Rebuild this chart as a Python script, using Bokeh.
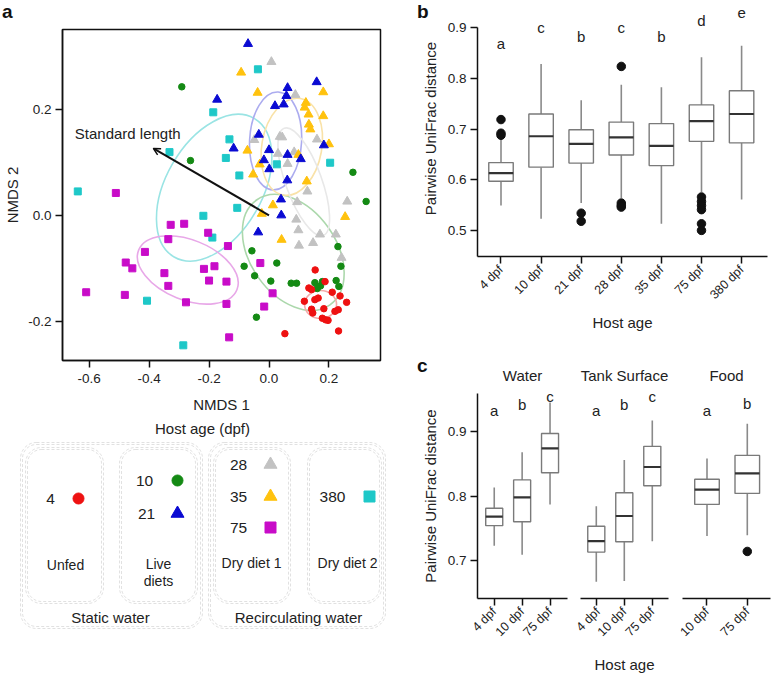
import math
import numpy as np
from bokeh.plotting import figure
from bokeh.layouts import row, column
from bokeh.models import (Range1d, FixedTicker, PrintfTickFormatter, Arrow,
                          OpenHead, BoxAnnotation, Div)
from bokeh.core.properties import value
from bokeh.embed import file_html
from bokeh.resources import INLINE

FONT = "Liberation Sans"
TXT = "#222222"

# ---------------- Panel a data (NMDS scores) ----------------
x4 = [0.154, 0.133, 0.142, 0.187, 0.211, 0.118, 0.153, 0.164, 0.237, 0.259, 0.142, 0.146, 0.183, 0.220, 0.231, 0.178, 0.189, 0.197, 0.232, 0.053]
y4 = [-0.103, -0.137, -0.140, -0.125, -0.145, -0.162, -0.159, -0.156, -0.152, -0.164, -0.177, -0.184, -0.176, -0.181, -0.178, -0.194, -0.197, -0.198, -0.218, -0.223]
x10 = [-0.291, -0.262, 0.280, 0.324, -0.057, -0.083, 0.026, -0.048, 0.006, 0.074, 0.092, -0.042, 0.230, 0.240, 0.224, 0.233, 0.153, 0.178, 0.172, 0.161]
y10 = [0.242, 0.103, 0.081, 0.026, -0.067, -0.096, -0.090, -0.114, -0.124, -0.128, -0.128, -0.192, -0.059, -0.096, -0.123, -0.134, -0.127, -0.125, -0.133, -0.138]
x21 = [-0.070, 0.159, 0.062, 0.058, -0.173, 0.020, 0.049, -0.034, -0.118, 0.000, -0.017, 0.001, 0.062, 0.106, 0.183, 0.061, 0.040, 0.041, -0.036]
y21 = [0.323, 0.251, 0.240, 0.225, 0.218, 0.206, 0.209, 0.152, 0.126, 0.123, 0.104, 0.087, 0.114, 0.106, 0.132, 0.066, 0.030, 0.000, -0.032]
x28 = [0.008, 0.088, 0.036, 0.044, -0.049, 0.160, 0.030, 0.084, 0.062, 0.128, 0.094, 0.261, 0.091, 0.098, 0.170, 0.223, 0.147, 0.100, 0.242]
y28 = [0.289, 0.227, 0.148, 0.147, 0.142, 0.143, 0.116, 0.119, 0.097, 0.045, 0.025, 0.026, -0.008, -0.028, -0.036, -0.036, -0.052, -0.057, -0.080]
x35 = [-0.093, -0.038, 0.181, 0.123, 0.119, 0.132, 0.133, 0.138, 0.181, -0.072, -0.031, -0.053, 0.200, 0.098, 0.126, 0.013, -0.024, 0.042, 0.254]
y35 = [0.269, 0.231, 0.232, 0.212, 0.203, 0.190, 0.171, 0.162, 0.187, 0.122, 0.096, 0.077, 0.134, 0.114, 0.064, 0.019, 0.003, -0.046, -0.003]
x75 = [-0.511, -0.328, -0.283, -0.203, -0.336, -0.414, -0.478, -0.456, -0.349, -0.336, -0.217, -0.182, -0.200, -0.610, -0.481, -0.277, -0.137, -0.142, -0.142, -0.029, 0.012, -0.016, -0.133]
y75 = [0.042, -0.018, -0.016, -0.033, -0.045, -0.069, -0.089, -0.100, -0.109, -0.133, -0.101, -0.096, -0.123, -0.145, -0.150, -0.164, -0.058, -0.125, -0.167, -0.090, -0.147, -0.172, -0.230]
x380 = [-0.037, -0.186, -0.132, -0.144, -0.332, -0.099, 0.026, 0.204, -0.638, -0.219, -0.106, -0.189, -0.407, -0.286]
y380 = [0.275, 0.194, 0.143, 0.108, 0.119, 0.075, 0.096, 0.099, 0.045, -0.001, 0.014, -0.042, -0.161, -0.245]

# group ellipses: centre (data), full width/height (px), angle (deg)
ell_cx = [-0.183, -0.271, 0.081, 0.172, 0.022, 0.076, 0.116]
ell_cy = [0.052, -0.103, -0.070, -0.168, 0.140, 0.129, 0.063]
ell_w = [160, 106, 128, 32, 52, 98, 114]
ell_h = [96, 60, 86, 28, 98, 60, 36]
ell_ang = [60, -22, -55, 0, -3, 80, -70]
ell_col = ["#9ae4e4", "#e8a8e8", "#acd8ac", "#f5aaaa", "#acacef", "#f9e2a8", "#e8e8e8"]

# environmental fit vector
vec_x = [0.0, -0.386]
vec_y = [0.0, 0.126]
vec_label = "Standard length"

COL = {"4": "#ee1111", "10": "#148a14", "21": "#0a0ad2", "28": "#c2c2c2",
       "35": "#ffc20e", "75": "#c80cc8", "380": "#1ec8c8"}

# ---------------- Panel b data ----------------
b_labels = ["4 dpf", "10 dpf", "21 dpf", "28 dpf", "35 dpf", "75 dpf", "380 dpf"]
b_lo = [0.549, 0.523, 0.554, 0.564, 0.513, 0.576, 0.561]
b_q1 = [0.597, 0.625, 0.633, 0.649, 0.628, 0.676, 0.673]
b_med = [0.613, 0.686, 0.671, 0.684, 0.667, 0.716, 0.730]
b_q3 = [0.634, 0.730, 0.699, 0.714, 0.711, 0.748, 0.776]
b_hi = [0.680, 0.829, 0.757, 0.788, 0.783, 0.842, 0.865]
b_letters = ["a", "c", "b", "c", "b", "d", "e"]
b_letter_y = [0.870, 0.901, 0.884, 0.901, 0.884, 0.915, 0.929]
b_out_group = [1, 1, 1, 3, 3, 4, 4, 4, 4, 6, 6, 6, 6, 6, 6]
b_out_val = [0.719, 0.692, 0.688, 0.534, 0.518, 0.824, 0.554, 0.549, 0.546, 0.566, 0.557, 0.549, 0.541, 0.513, 0.500]

# ---------------- Panel c data ----------------
w_labels = ["4 dpf", "10 dpf", "75 dpf"]
w_lo = [0.723, 0.709, 0.787]
w_q1 = [0.754, 0.760, 0.836]
w_med = [0.768, 0.798, 0.874]
w_q3 = [0.781, 0.825, 0.897]
w_hi = [0.813, 0.868, 0.945]
w_letters = ["a", "b", "c"]
w_letter_y = [0.933, 0.942, 0.955]

t_labels = ["4 dpf", "10 dpf", "75 dpf"]
t_lo = [0.667, 0.668, 0.730]
t_q1 = [0.713, 0.729, 0.816]
t_med = [0.730, 0.769, 0.845]
t_q3 = [0.753, 0.805, 0.877]
t_hi = [0.784, 0.856, 0.917]
t_letters = ["a", "b", "c"]
t_letter_y = [0.933, 0.942, 0.955]

f_labels = ["10 dpf", "75 dpf"]
f_lo = [0.738, 0.739]
f_q1 = [0.787, 0.804]
f_med = [0.810, 0.835]
f_q3 = [0.826, 0.863]
f_hi = [0.858, 0.912]
f_letters = ["a", "b"]
f_letter_y = [0.933, 0.944]
f_out_group = [2]
f_out_val = [0.714]

c_titles = ["Water", "Tank Surface", "Food"]
panel_letters = ["a", "b", "c"]


def base_fig(w, h, xr, yr, ml, mr, mt, mb, **kw):
    p = figure(width=w, height=h, x_range=Range1d(*xr), y_range=Range1d(*yr),
               min_border_left=ml, min_border_right=mr, min_border_top=mt,
               min_border_bottom=mb, toolbar_location=None, output_backend="svg", **kw)
    p.grid.visible = False
    p.outline_line_color = None
    p.background_fill_color = "white"
    p.border_fill_color = "white"
    return p


def style_axis(ax, size="13px"):
    ax.axis_line_color = "#111111"
    ax.axis_line_width = 1.5
    ax.major_tick_line_color = "#111111"
    ax.major_tick_line_width = 1.5
    ax.major_tick_out = 7
    ax.major_tick_in = 0
    ax.minor_tick_line_color = None
    ax.major_label_text_font = FONT
    ax.major_label_text_font_size = size
    ax.major_label_text_color = TXT
    ax.axis_label_text_font = FONT
    ax.axis_label_text_font_size = "15px"
    ax.axis_label_text_font_style = "normal"
    ax.axis_label_text_color = TXT


def boxes(p, n, lo, q1, med, q3, hi, width=0.61):
    pos = np.arange(1, n + 1)
    p.segment(pos, np.array(q3), pos, np.array(hi), line_color="#8a8a8a", line_width=1.6)
    p.segment(pos, np.array(lo), pos, np.array(q1), line_color="#8a8a8a", line_width=1.6)
    p.vbar(x=pos, width=width, bottom=q1, top=q3, fill_color="white",
           line_color="#7a7a7a", line_width=1.4)
    p.segment(pos - width / 2, np.array(med), pos + width / 2, np.array(med),
              line_color="#333333", line_width=2.2)


def letters(p, n, labs, ys):
    p.text(x=list(range(1, n + 1)), y=ys, text=labs, text_font=value(FONT),
           text_font_size="15px", text_color=TXT, text_align="center", text_baseline="middle")


def cat_xaxis(p, labels, size="12.5px"):
    ax = p.xaxis[0]
    ax.ticker = FixedTicker(ticks=list(range(1, len(labels) + 1)))
    ax.major_label_overrides = {i + 1: l for i, l in enumerate(labels)}
    ax.major_label_orientation = math.pi / 4
    style_axis(ax, size)
    ax.major_label_standoff = 4


def letter_div(t, left, top):
    return Div(text='<span style="font-family:\'Liberation Sans\';font-weight:bold;'
                    'font-size:19px;line-height:1;color:#111111">%s</span>' % t,
               width=16, height=22,
               styles={"position": "absolute", "left": "%dpx" % left, "top": "%dpx" % top,
                       "line-height": "1", "margin": "0", "padding": "0"})


# ---------------- Panel a ----------------
pa = base_fig(388, 418, (-0.689, 0.372), (-0.2736, 0.350), 62, 8, 29, 58)
pa.outline_line_color = "#111111"
pa.outline_line_width = 1.5
pa.xaxis.ticker = FixedTicker(ticks=[-0.6, -0.4, -0.2, 0.0, 0.2])
pa.yaxis.ticker = FixedTicker(ticks=[-0.2, 0.0, 0.2])
pa.xaxis.formatter = PrintfTickFormatter(format="%.1f")
pa.yaxis.formatter = PrintfTickFormatter(format="%.1f")
for ax in (pa.xaxis[0], pa.yaxis[0]):
    style_axis(ax, "13.5px")
pa.xaxis.axis_label = "NMDS 1"
pa.yaxis.axis_label = "NMDS 2"
pa.xaxis.major_label_standoff = 6
pa.xaxis.axis_label_standoff = 10
pa.yaxis.major_label_standoff = 4
pa.yaxis.axis_label_standoff = 4

pa.ellipse(x=ell_cx, y=ell_cy, width=ell_w, height=ell_h, angle=ell_ang, angle_units="deg",
           width_units="screen", height_units="screen", fill_color=None,
           line_color=ell_col, line_width=1.6)
pa.add_layout(Arrow(end=OpenHead(size=7, line_width=1.5, line_color="#111111"),
                    x_start=vec_x[0], y_start=vec_y[0], x_end=vec_x[1], y_end=vec_y[1],
                    line_width=2, line_color="#111111"))
pa.text(x=[-0.648], y=[0.155], text=[vec_label], text_font=value(FONT), text_font_size="15px",
        text_color=TXT, text_align="left", text_baseline="middle")

pa.scatter(x380, y380, marker="square", size=7, color=COL["380"])
pa.scatter(x75, y75, marker="square", size=7, color=COL["75"])
pa.scatter(x28, y28, marker="triangle", size=9, color=COL["28"])
pa.scatter(x35, y35, marker="triangle", size=9, color=COL["35"])
pa.scatter(x21, y21, marker="triangle", size=9, color=COL["21"])
pa.scatter(x10, y10, marker="circle", size=6.5, color=COL["10"])
pa.scatter(x4, y4, marker="circle", size=6.5, color=COL["4"])

# ---------------- Legend panel (pixel-space layout) ----------------
pl = figure(width=388, height=257, x_range=Range1d(0, 388), y_range=Range1d(0, 257),
            min_border=0, toolbar_location=None, output_backend="svg")
pl.axis.visible = False
pl.grid.visible = False
pl.outline_line_color = None
for (l, r, b, t) in [(20, 202, 47, 233), (208, 385, 47, 233),
                     (25, 103, 72, 228), (119, 197, 72, 228), (213, 290, 72, 228), (307, 381, 72, 228)]:
    for d in (0, 2):
        pl.add_layout(BoxAnnotation(left=l + d, right=r - d, bottom=b + d, top=t - d,
                                    border_radius=16 - d, fill_alpha=0, line_color="#9a9a9a",
                                    line_dash="3 2", line_width=1))
leg_txt = ["Host age (dpf)", "4", "10", "21", "28", "35", "75", "380", "Unfed", "Live", "diets",
           "Dry diet 1", "Dry diet 2", "Static water", "Recirculating water"]
leg_tx = [202, 50, 144, 146, 238, 238, 238, 332, 65, 158, 158, 251, 347, 110, 298]
leg_ty = [247, 177, 195, 162, 211, 179, 148, 179, 111, 112, 95, 113, 113, 58, 58]
leg_fs = ["15px", "15.5px", "15.5px", "15.5px", "15.5px", "15.5px", "15.5px", "15.5px",
          "14px", "14px", "14px", "14px", "14px", "15px", "15px"]
pl.text(x=leg_tx, y=leg_ty, text=leg_txt, text_font=value(FONT), text_font_size=leg_fs,
        text_color=TXT, text_align="center", text_baseline="middle")
pl.scatter([78], [177], marker="circle", size=11, color=COL["4"])
pl.scatter([177], [195], marker="circle", size=11, color=COL["10"])
pl.scatter([177], [162], marker="triangle", size=13, color=COL["21"])
pl.scatter([270], [211], marker="triangle", size=13, color=COL["28"])
pl.scatter([270], [179], marker="triangle", size=13, color=COL["35"])
pl.scatter([270], [148], marker="square", size=11, color=COL["75"])
pl.scatter([369], [179], marker="square", size=11, color=COL["380"])

# ---------------- Panel b ----------------
pb = base_fig(384, 340, (0.414, 7.646), (0.4484, 0.9543), 89, 5, 0, 84)
boxes(pb, 7, b_lo, b_q1, b_med, b_q3, b_hi)
pb.scatter(b_out_group, b_out_val, marker="circle", size=8.5, color="#111111")
letters(pb, 7, b_letters, b_letter_y)
cat_xaxis(pb, b_labels)
pb.xaxis.axis_label = "Host age"
pb.xaxis.axis_label_standoff = 4
pb.yaxis.ticker = FixedTicker(ticks=[0.5, 0.6, 0.7, 0.8, 0.9])
pb.yaxis.formatter = PrintfTickFormatter(format="%.1f")
pb.yaxis.bounds = (0.4484, 0.9)
style_axis(pb.yaxis[0], "13.5px")
pb.yaxis.axis_label = "Pairwise UniFrac distance"
pb.yaxis.major_label_standoff = 4
pb.yaxis.axis_label_standoff = 6

# ---------------- Panel c ----------------
CY = (0.641, 0.959)
pcw = base_fig(185, 335, (0.40, 3.626), CY, 89, 6, 53, 75)
boxes(pcw, 3, w_lo, w_q1, w_med, w_q3, w_hi)
letters(pcw, 3, w_letters, w_letter_y)
cat_xaxis(pcw, w_labels)
pcw.yaxis.ticker = FixedTicker(ticks=[0.7, 0.8, 0.9])
pcw.yaxis.formatter = PrintfTickFormatter(format="%.1f")
style_axis(pcw.yaxis[0], "13.5px")
pcw.yaxis.axis_label = "Pairwise UniFrac distance"
pcw.yaxis.major_label_standoff = 4
pcw.yaxis.axis_label_standoff = 6

pct = base_fig(102, 335, (0.436, 3.579), CY, 7, 7, 53, 75, y_axis_location=None)
boxes(pct, 3, t_lo, t_q1, t_med, t_q3, t_hi)
letters(pct, 3, t_letters, t_letter_y)
cat_xaxis(pct, t_labels)
pct.xaxis.axis_label = "Host age"
pct.xaxis.axis_label_standoff = 9

pcf = base_fig(97, 335, (0.392, 2.576), CY, 7, 2, 53, 75, y_axis_location=None)
boxes(pcf, 2, f_lo, f_q1, f_med, f_q3, f_hi)
pcf.scatter(f_out_group, f_out_val, marker="circle", size=8.5, color="#111111")
letters(pcf, 2, f_letters, f_letter_y)
cat_xaxis(pcf, f_labels)

for p, name in zip((pcw, pct, pcf), c_titles):
    p.title.text = name
    p.title.align = "center"
    p.title.text_font = FONT
    p.title.text_font_size = "15px"
    p.title.text_font_style = "normal"
    p.title.text_color = TXT
    p.title.standoff = 19

divs = [letter_div(panel_letters[0], 2, 2), letter_div(panel_letters[1], 417, 2),
        letter_div(panel_letters[2], 417, 356)]

layout = row(column(row(pa), row(pl)),
             column(row(pb), row(pcw, pct, pcf)),
             *divs)
open("out.html", "w").write(file_html(layout, INLINE))
